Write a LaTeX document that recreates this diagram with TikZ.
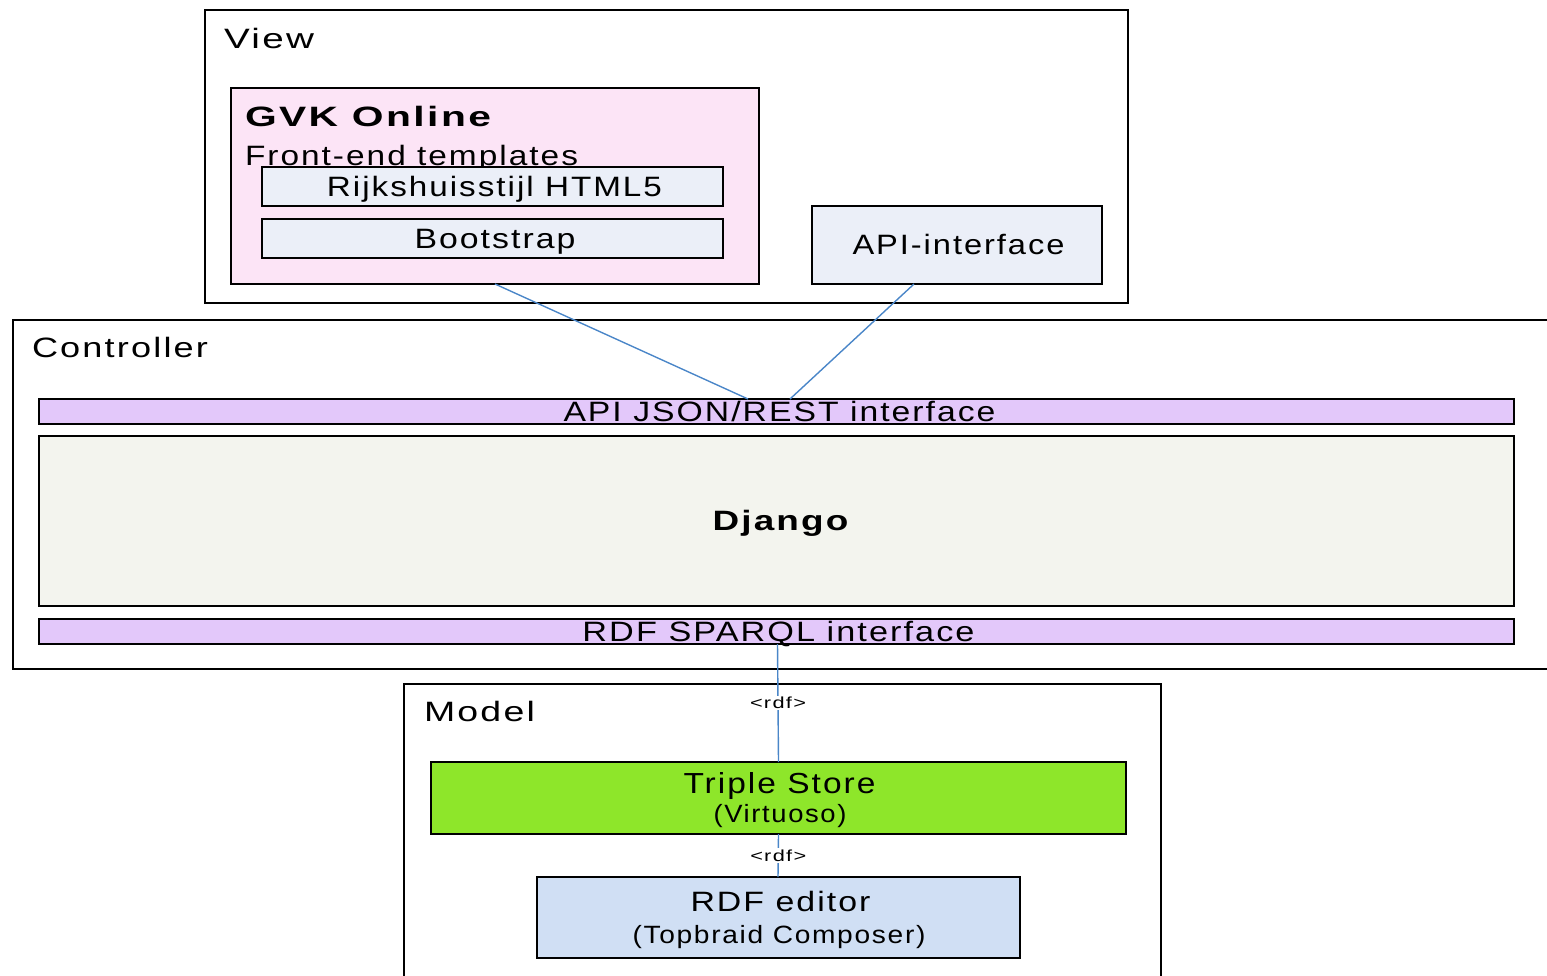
\documentclass[tikz,border=0pt]{standalone}
\usepackage{fontspec}
\usepackage{graphicx}
\setmainfont{Liberation Sans}[LetterSpace=6]
\usetikzlibrary{calc}
\definecolor{gvkpink}{HTML}{FCE4F6}
\definecolor{lightbox}{HTML}{EBEFF8}
\definecolor{barpurple}{HTML}{E3C8FA}
\definecolor{djangobg}{HTML}{F3F4EE}
\definecolor{storegreen}{HTML}{8EE62A}
\definecolor{editorblue}{HTML}{D0DFF4}
\definecolor{linkblue}{HTML}{4A86C8}
\newcommand{\tx}[3]{\resizebox{#1pt}{\height}{\fontsize{#2pt}{#2pt}\selectfont #3}}
\begin{document}
\begin{tikzpicture}[x=1pt,y=-1pt,
  frame/.style={draw=black, line width=1.7pt, inner sep=0pt, outer sep=0pt, anchor=north west},
  txt/.style={inner sep=0pt, outer sep=0pt, text=black},
  conn/.style={draw=linkblue, line width=1.4pt},
  lbl/.style={fill=white, inner sep=1.5pt}]
\useasboundingbox (0,0) rectangle (1547,975);

% containers
\node[frame, minimum width=923, minimum height=293] (view) at (205,10) {};
\node[frame, minimum width=1560, minimum height=349] (ctrl) at (13,320) {};
\node[frame, minimum width=757, minimum height=330] (model) at (404,684) {};

% view contents
\node[frame, fill=gvkpink, minimum width=528, minimum height=196] (gvk) at (231,88) {};
\node[txt, anchor=base west] (tgvk) at (245,126) {\tx{246}{28}{\bfseries GVK Online}};
\node[txt, anchor=base west] (tfront) at (245,165) {\tx{333}{28}{Front-end templates}};
\node[frame, fill=lightbox, minimum width=461, minimum height=39] (rijks) at (262,167) {};
\node[frame, fill=lightbox, minimum width=461, minimum height=39] (boot) at (262,219) {};
\node[frame, fill=lightbox, minimum width=290, minimum height=78] (apiif) at (812,206) {};

% controller contents
\node[frame, fill=barpurple, minimum width=1475, minimum height=25] (json) at (39,399) {};
\node[frame, fill=djangobg, minimum width=1475, minimum height=170] (django) at (39,436) {};
\node[frame, fill=barpurple, minimum width=1475, minimum height=25] (sparql) at (39,619) {};

% model contents
\node[frame, fill=storegreen, minimum width=695, minimum height=72] (triple) at (431,762) {};
\node[frame, fill=editorblue, minimum width=483, minimum height=81] (editor) at (537,877) {};

% texts
\node[txt, anchor=base west] (tview) at (224,48) {\tx{90}{28}{View}};
\node[txt, anchor=base west] (tctrl) at (32,357) {\tx{176}{28}{Controller}};
\node[txt, anchor=base west] (tmodel) at (424,721) {\tx{111}{28}{Model}};
\node[txt, anchor=base] (trijks) at (494.5,196) {\tx{335}{28}{Rijkshuisstijl HTML5}};
\node[txt, anchor=base] (tboot) at (495,248) {\tx{161}{28}{Bootstrap}};
\node[txt, anchor=base] (tapi) at (958.5,254) {\tx{212}{28}{API-interface}};
\node[txt, anchor=base] (tjson) at (779.5,421) {\tx{432}{28}{API JSON/REST interface}};
\node[txt, anchor=base] (tdjango) at (780.5,530) {\tx{136}{28}{\bfseries Django}};
\node[txt, anchor=base] (tsparql) at (778.5,641) {\tx{392}{28}{RDF SPARQL interface}};
\node[txt, anchor=base] (ttriple) at (779.5,793) {\tx{192}{29}{Triple Store}};
\node[txt, anchor=base] (tvirt) at (780,822) {\tx{133}{25}{(Virtuoso)}};
\node[txt, anchor=base] (teditor) at (780.5,911) {\tx{180}{28}{RDF editor}};
\node[txt, anchor=base] (ttop) at (779,943) {\tx{293}{25}{(Topbraid Composer)}};

% connectors
\draw[conn] (gvk.south) -- ($(json.north)+(-28.5,0)$);
\draw[conn] ($(apiif.south)+(-43,0)$) -- ($(json.north)+(13.5,0)$);
\draw[conn] ($(sparql.south)+(1,0)$) -- node[lbl] (rdf1) {\tx{56}{16}{<rdf>}} (triple.north);
\draw[conn] (triple.south) -- node[lbl] (rdf2) {\tx{56}{16}{<rdf>}} ($(editor.north)+(-0.5,0)$);
\end{tikzpicture}
\end{document}
